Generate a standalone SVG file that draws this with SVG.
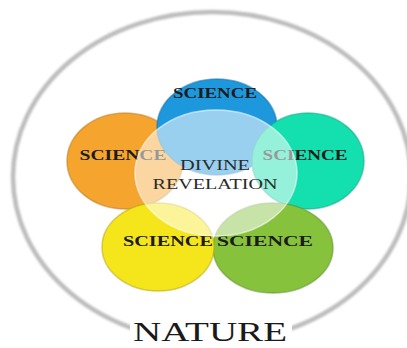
<svg xmlns="http://www.w3.org/2000/svg" width="407" height="348" viewBox="0 0 407 348">
  <style>
    .petal { stroke-width: 1.5; stroke-opacity: 0.55; }
    .lbl { font-family: "Liberation Serif", "Times New Roman", serif; font-size: 14px; font-weight: bold; fill: #1c1c1c; text-anchor: middle; }
    .core-lbl { font-family: "Liberation Serif", "Times New Roman", serif; font-size: 15px; fill: #2a2a2a; text-anchor: middle; }
    .title { font-family: "Liberation Serif", "Times New Roman", serif; font-size: 28px; fill: #1a1a1a; text-anchor: middle; }
  </style>
  <defs>
    <filter id="soft" x="-5%" y="-5%" width="110%" height="110%">
      <feGaussianBlur stdDeviation="0.8"/>
    </filter>
  </defs>
  <rect width="407" height="348" fill="#ffffff"/>

  <!-- outer boundary: nature -->
  <g id="nature">
    <ellipse cx="212" cy="177" rx="199" ry="165" fill="none" stroke="#bdbdbd" stroke-width="4.5" filter="url(#soft)"/>
    <rect x="130" y="320" width="162" height="28" fill="#ffffff"/>
    <text class="title" x="210" y="341" textLength="154" lengthAdjust="spacingAndGlyphs">NATURE</text>
  </g>

  <!-- five science petals -->
  <g id="science-left">
    <ellipse class="petal" cx="125" cy="161" rx="58" ry="48" fill="#f5a52e" stroke="#b87a20"/>
    <text class="lbl" x="123" y="160" textLength="87" lengthAdjust="spacingAndGlyphs">SCIENCE</text>
  </g>
  <g id="science-top">
    <ellipse class="petal" cx="217" cy="127" rx="60" ry="48" fill="#1e98dd" stroke="#1670a8"/>
    <text class="lbl" x="215" y="98" textLength="84" lengthAdjust="spacingAndGlyphs">SCIENCE</text>
  </g>
  <g id="science-right">
    <ellipse class="petal" cx="308" cy="161" rx="56" ry="48" fill="#14dfae" stroke="#0fa884"/>
    <text class="lbl" x="305" y="160" textLength="85" lengthAdjust="spacingAndGlyphs">SCIENCE</text>
  </g>
  <g id="science-bottom-right">
    <ellipse class="petal" cx="273" cy="248" rx="60" ry="45" fill="#86c23c" stroke="#5f902a"/>
    <text class="lbl" x="265" y="246" textLength="96" lengthAdjust="spacingAndGlyphs">SCIENCE</text>
  </g>
  <g id="science-bottom-left">
    <ellipse class="petal" cx="158" cy="247" rx="56" ry="44" fill="#f5e61c" stroke="#b8a812"/>
    <text class="lbl" x="168" y="246" textLength="90" lengthAdjust="spacingAndGlyphs">SCIENCE</text>
  </g>

  <!-- translucent core -->
  <g id="divine-revelation">
    <ellipse cx="216" cy="173" rx="81" ry="63" fill="#ffffff" fill-opacity="0.55" stroke="#ffffff" stroke-opacity="0.6" stroke-width="1.5"/>
    <text class="core-lbl" x="215" y="170" textLength="70" lengthAdjust="spacingAndGlyphs">DIVINE</text>
    <text class="core-lbl" x="215" y="189" textLength="125" lengthAdjust="spacingAndGlyphs">REVELATION</text>
  </g>
</svg>
